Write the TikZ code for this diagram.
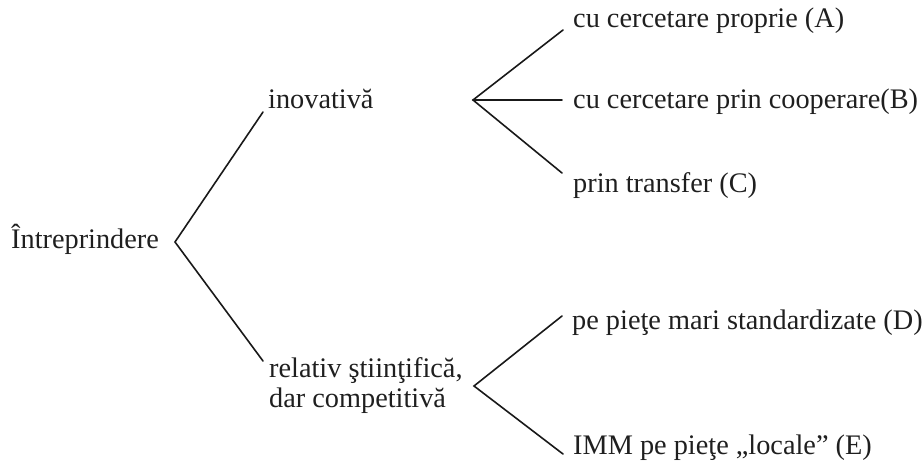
\documentclass[tikz,border=0pt]{standalone}
\usepackage{fontspec}
\setmainfont{Liberation Serif}
\begin{document}
\begin{tikzpicture}[x=1pt,y=-1pt,
  lbl/.style={anchor=base west,inner sep=0pt,font=\fontsize{28.3}{30}\selectfont,text=black!88},
  conn/.style={draw=black!90,line width=1.6pt,line cap=round}]
\useasboundingbox (0,0) rectangle (924,461);
% texts
\node[lbl] (root) at (11,248) {Întreprindere};
\node[lbl] (inov) at (268,108) {inovativă};
\node[lbl] (rel1) at (269,377) {relativ ştiinţifică,};
\node[lbl] (rel2) at (269,407) {dar competitivă};
\node[lbl] (A) at (573,27) {cu cercetare proprie (A)};
\node[lbl] (B) at (573,108) {cu cercetare prin cooperare(B)};
\node[lbl] (C) at (573,192) {prin transfer (C)};
\node[lbl] (D) at (572,329) {pe pieţe mari standardizate (D)};
\node[lbl] (E) at (573,454) {IMM pe pieţe „locale” (E)};
% junctions and line ends
\coordinate (v0) at (175,242);
\coordinate (v0a) at (263,112);
\coordinate (v0b) at (263,361);
\coordinate (v1) at (473,100);
\coordinate (v1a) at (563,30);
\coordinate (v1b) at (562,100);
\coordinate (v1c) at (562,173);
\coordinate (v2) at (474,386);
\coordinate (v2a) at (562,316);
\coordinate (v2b) at (563,454);
% connectors
\draw[conn] (v0a) -- (v0) -- (v0b);
\draw[conn] (v1a) -- (v1) -- (v1c);
\draw[conn] (v1) -- (v1b);
\draw[conn] (v2a) -- (v2) -- (v2b);
\end{tikzpicture}
\end{document}
